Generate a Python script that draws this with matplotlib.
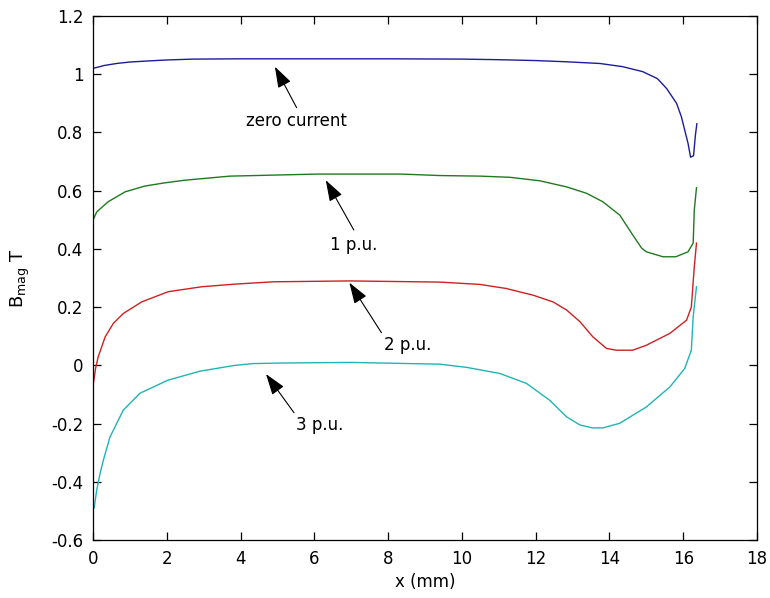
import numpy as np
import matplotlib
matplotlib.use("Agg")
import matplotlib.pyplot as plt

plt.rcParams['font.family'] = ['DejaVu Sans']
plt.rcParams['axes.unicode_minus'] = False

# --- flux density along x for each load level ---
x_zero = [0.0, 0.3, 0.64, 1.0, 1.54, 2.0, 2.71, 4.0, 6.0, 8.0, 10.0, 11.0, 12.0, 12.8,
          13.74, 14.36, 14.9, 15.3, 15.55, 15.82, 15.95, 16.13, 16.2, 16.28, 16.33, 16.37]
b_zero = [1.02, 1.03, 1.037, 1.042, 1.046, 1.049, 1.052, 1.053, 1.053, 1.053, 1.052, 1.05, 1.047, 1.043,
          1.037, 1.026, 1.009, 0.985, 0.951, 0.9, 0.854, 0.763, 0.715, 0.72, 0.79, 0.83]

x_1pu = [0.0, 0.1, 0.41, 0.87, 1.41, 1.95, 2.49, 3.71, 6.06, 8.37, 9.4, 10.49, 11.3, 12.11, 12.84,
         13.38, 13.82, 14.28, 14.6, 14.87, 15.0, 15.45, 15.8, 16.13, 16.27, 16.3, 16.36]
b_1pu = [0.499, 0.527, 0.562, 0.596, 0.616, 0.627, 0.636, 0.65, 0.657, 0.657, 0.652, 0.65, 0.646, 0.634, 0.613,
         0.591, 0.562, 0.516, 0.454, 0.403, 0.39, 0.373, 0.373, 0.39, 0.42, 0.533, 0.61]

x_2pu = [0.0, 0.07, 0.14, 0.33, 0.55, 0.82, 1.32, 2.04, 2.95, 3.85, 4.89, 6.96, 9.4, 10.49, 11.2,
         11.93, 12.47, 12.84, 13.2, 13.55, 13.92, 14.19, 14.63, 15.0, 15.64, 16.09, 16.22, 16.3, 16.36]
b_2pu = [-0.07, -0.01, 0.029, 0.098, 0.144, 0.178, 0.218, 0.253, 0.27, 0.279, 0.287, 0.29, 0.286, 0.278, 0.264,
         0.241, 0.218, 0.19, 0.15, 0.098, 0.058, 0.052, 0.052, 0.069, 0.11, 0.155, 0.2, 0.338, 0.42]

x_3pu = [0.03, 0.1, 0.19, 0.28, 0.46, 0.82, 1.27, 2.03, 2.9, 3.85, 4.34, 5.15, 7.0, 9.4, 10.13,
         11.03, 11.75, 12.38, 12.84, 13.2, 13.55, 13.82, 14.28, 15.0, 15.64, 16.04, 16.22, 16.27, 16.36]
b_3pu = [-0.49, -0.429, -0.372, -0.326, -0.246, -0.154, -0.096, -0.051, -0.02, 0.0, 0.006, 0.008, 0.01, 0.004, -0.007,
         -0.028, -0.062, -0.12, -0.177, -0.205, -0.215, -0.215, -0.199, -0.143, -0.074, -0.011, 0.052, 0.167, 0.27]

x_ticks = [0, 2, 4, 6, 8, 10, 12, 14, 16, 18]
y_ticks = [-0.6, -0.4, -0.2, 0, 0.2, 0.4, 0.6, 0.8, 1.0, 1.2]
y_ticklabels = ['-0.6', '-0.4', '-0.2', '0', '0.2', '0.4', '0.6', '0.8', '1', '1.2']

# label text, arrow tip, arrow tail, text position, alignment
notes = [
    ('zero current', (4.93, 1.026), (5.52, 0.885), (5.52, 0.84), 'center'),
    ('1 p.u.', (6.31, 0.636), (7.07, 0.465), (7.06, 0.413), 'center'),
    ('2 p.u.', (6.95, 0.284), (7.82, 0.112), (7.9, 0.07), 'left'),
    ('3 p.u.', (4.69, -0.03), (5.45, -0.163), (5.5, -0.205), 'left'),
]

fig = plt.figure(figsize=(7.7, 5.98), dpi=100)
ax = fig.add_axes([0.1208, 0.0970, 0.8623, 0.8762])

ax.plot(x_zero, b_zero, color='#1c1c9c', lw=1.0)
ax.plot(x_1pu, b_1pu, color='#1f7a1f', lw=1.0)
ax.plot(x_2pu, b_2pu, color='#d02020', lw=1.0)
ax.plot(x_3pu, b_3pu, color='#20b4b4', lw=1.0)

for label, tip, tail, pos, ha in notes:
    ax.annotate('', xy=tip, xytext=tail,
                arrowprops=dict(arrowstyle='-|>,head_length=0.65,head_width=0.22',
                                color='black', lw=0.8, mutation_scale=20,
                                shrinkA=0, shrinkB=0))
    ax.text(pos[0], pos[1], label, ha=ha, va='center', fontsize=12)

ax.set_xlim(0, 18)
ax.set_ylim(-0.6, 1.2)
ax.set_xticks(x_ticks)
ax.set_yticks(y_ticks)
ax.set_yticklabels(y_ticklabels)
ax.tick_params(direction='in', length=6, width=0.9, labelsize=12,
               top=True, right=True, pad=7)
for s in ax.spines.values():
    s.set_linewidth(0.9)

ax.set_xlabel('x (mm)', fontsize=12, labelpad=4)
ax.set_ylabel(r'$\mathregular{B_{mag}\ T}$', fontsize=13, labelpad=14)

fig.savefig('out.png', dpi=100)
